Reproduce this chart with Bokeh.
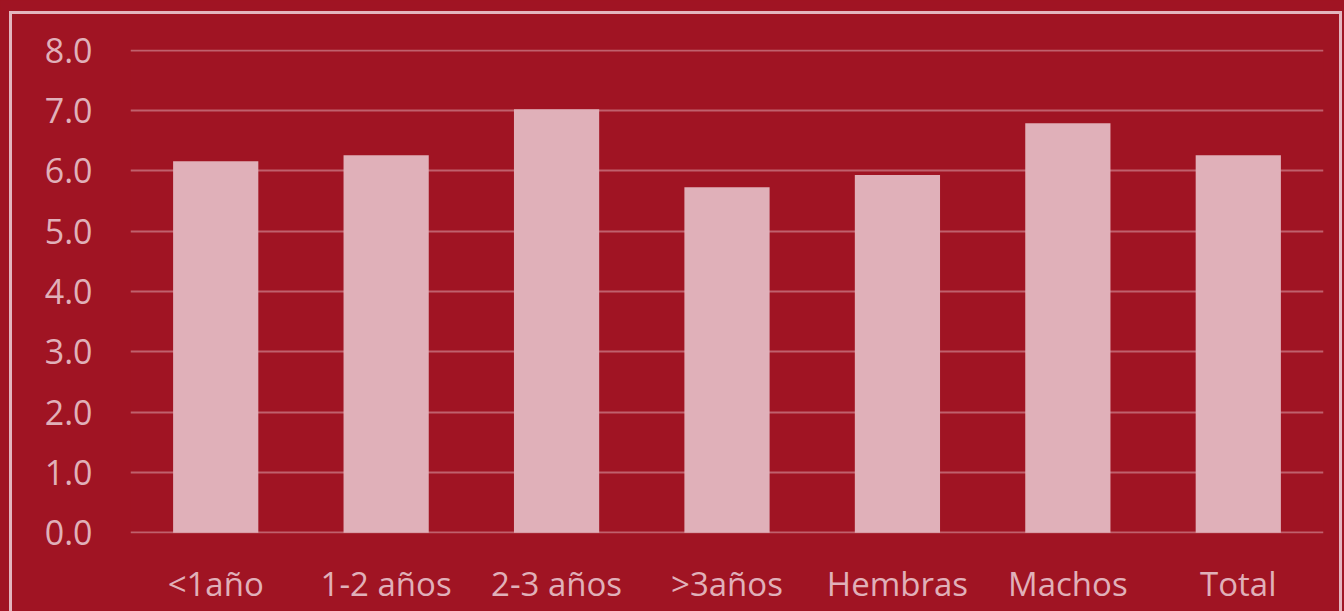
from bokeh.plotting import figure
from bokeh.models import FixedTicker, NumeralTickFormatter, ColumnDataSource, Range1d
from bokeh.embed import file_html
from bokeh.resources import INLINE

categories = ["<1año", "1-2 años", "2-3 años", ">3años", "Hembras", "Machos", "Total"]
values = [6.16, 6.26, 7.02, 5.73, 5.93, 6.79, 6.26]
y_ticks = [0, 1, 2, 3, 4, 5, 6, 7, 8]

BG = "#A01423"
PINK = "#E0B0B9"

src = ColumnDataSource(dict(cat=categories, val=values))

p = figure(x_range=categories, y_range=Range1d(-0.012, 8.012), width=1344, height=611,
           output_backend="svg", toolbar_location=None,
           frame_width=1193, frame_height=484)
p.min_border_left = 130
p.min_border_right = 21
p.min_border_top = 49
p.min_border_bottom = 78
p.background_fill_color = BG
p.border_fill_color = BG
p.outline_line_color = None

p.vbar(x="cat", top="val", width=0.5, source=src, fill_color=PINK, line_color=None)

p.yaxis.ticker = FixedTicker(ticks=y_ticks)
p.yaxis.formatter = NumeralTickFormatter(format="0.0")
for ax in (p.xaxis, p.yaxis):
    ax.axis_line_color = None
    ax.major_tick_line_color = None
    ax.minor_tick_line_color = None
    ax.major_tick_out = 0
    ax.major_tick_in = 0
    ax.major_label_text_color = PINK
    ax.major_label_text_font = "Open Sans"
p.yaxis.major_label_text_font_size = "34px"
p.xaxis.major_label_text_font_size = "33px"
p.yaxis.major_label_standoff = 38
p.xaxis.major_label_standoff = 27

p.xgrid.grid_line_color = None
p.ygrid.grid_line_color = "#C0606C"
p.ygrid.grid_line_width = 2

template = """
{% block preamble %}
<style>
html, body { margin: 0; padding: 0; background: #A01423; overflow: hidden; }
body::after { content: ""; position: fixed; left: 9px; top: 11px; right: 2px; bottom: -20px;
  border: 3px solid #E3B5BE; box-sizing: border-box; pointer-events: none; }
</style>
{% endblock %}
"""

open("out.html", "w").write(file_html(p, INLINE, template=template))
